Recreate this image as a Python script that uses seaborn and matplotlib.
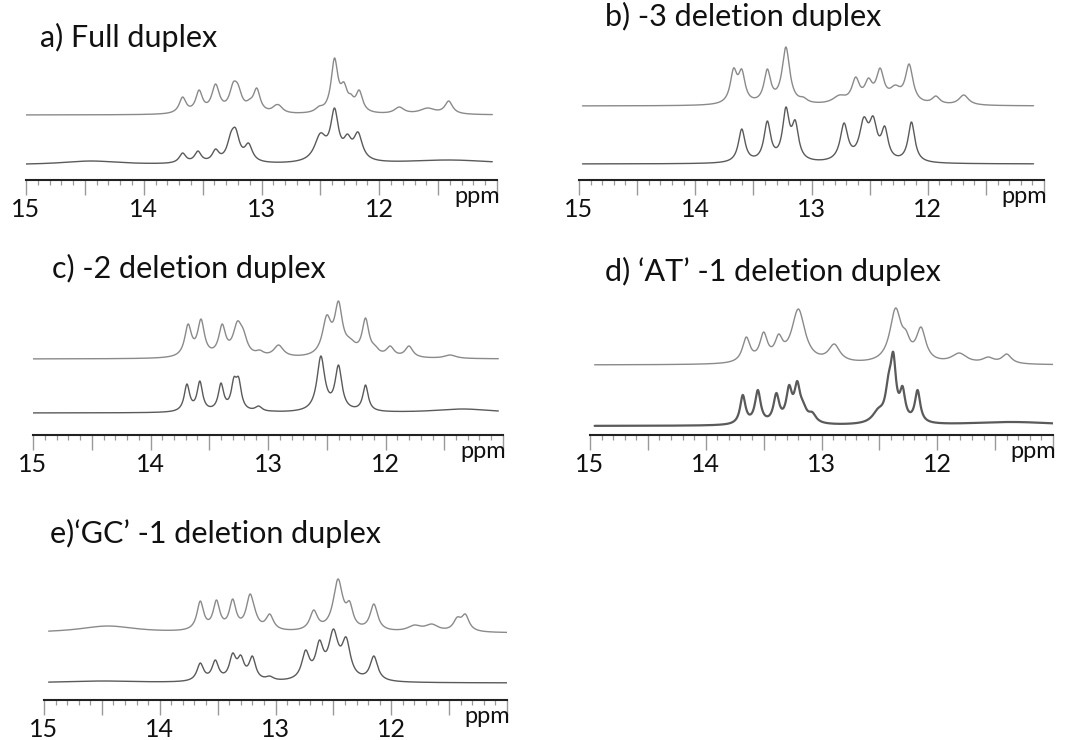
import numpy as np
import pandas as pd
import matplotlib
matplotlib.use("Agg")
import matplotlib.pyplot as plt
from matplotlib.ticker import MultipleLocator, FuncFormatter
import seaborn as sns

# ---------------- data: peak tables ----------------
# each entry: (chemical shift ppm, height above baseline in px, half-width ppm)
A_TOP = [(13.67, 18, 0.035), (13.53, 25, 0.035), (13.39, 31, 0.04), (13.24, 33, 0.04),
         (13.20, 31, 0.04), (13.10, 16, 0.04), (13.04, 27, 0.035), (12.88, 10, 0.04),
         (12.85, 10, 0.04), (12.51, 9, 0.04), (12.38, 57, 0.035), (12.30, 33, 0.035),
         (12.24, 21, 0.03), (12.17, 25, 0.035), (11.83, 8, 0.05), (11.59, 7, 0.08),
         (11.41, 14, 0.04)]
A_BOT = [(14.45, 4, 0.3), (13.67, 12, 0.035), (13.54, 14, 0.035), (13.39, 16, 0.035),
         (13.26, 33, 0.04), (13.22, 37, 0.04), (13.11, 22, 0.04), (12.50, 32, 0.06),
         (12.38, 57, 0.04), (12.27, 31, 0.04), (12.18, 33, 0.045), (11.40, 5, 0.5)]
B_TOP = [(13.67, 38, 0.035), (13.60, 37, 0.035), (13.38, 37, 0.035), (13.22, 59, 0.04),
         (13.07, 9, 0.04), (12.76, 11, 0.07), (12.62, 29, 0.04), (12.51, 28, 0.04),
         (12.41, 38, 0.04), (12.28, 21, 0.06), (12.16, 42, 0.04), (11.93, 10, 0.04),
         (11.69, 11, 0.05)]
B_BOT = [(13.60, 35, 0.035), (13.38, 43, 0.035), (13.22, 57, 0.035), (13.14, 44, 0.035),
         (12.72, 41, 0.04), (12.55, 47, 0.045), (12.47, 48, 0.04), (12.37, 38, 0.035),
         (12.14, 42, 0.035)]
C_TOP = [(13.68, 35, 0.035), (13.57, 40, 0.035), (13.39, 35, 0.035), (13.26, 38, 0.045),
         (13.21, 30, 0.04), (13.07, 9, 0.04), (12.91, 14, 0.05), (12.50, 44, 0.045),
         (12.40, 58, 0.04), (12.30, 21, 0.06), (12.17, 41, 0.035), (12.09, 14, 0.04),
         (11.96, 13, 0.04), (11.80, 13, 0.04), (11.45, 4, 0.06)]
C_BOT = [(13.69, 29, 0.028), (13.58, 32, 0.028), (13.40, 30, 0.028), (13.29, 36, 0.028),
         (13.25, 36, 0.028), (13.08, 7, 0.035), (12.95, 2, 0.04), (12.55, 57, 0.04),
         (12.40, 48, 0.035), (12.17, 28, 0.028), (11.34, 4, 0.3)]
D_TOP = [(13.65, 28, 0.04), (13.50, 33, 0.04), (13.37, 31, 0.04), (13.20, 56, 0.07),
         (12.89, 21, 0.06), (12.36, 57, 0.06), (12.27, 35, 0.04), (12.14, 38, 0.05),
         (11.81, 12, 0.08), (11.56, 8, 0.06), (11.40, 11, 0.05)]
D_BOT = [(13.68, 31, 0.028), (13.55, 36, 0.03), (13.39, 33, 0.03), (13.28, 41, 0.03),
         (13.21, 45, 0.03), (13.16, 25, 0.04), (13.08, 14, 0.04), (12.51, 18, 0.06),
         (12.42, 53, 0.033), (12.38, 74, 0.028), (12.30, 40, 0.028), (12.17, 36, 0.028),
         (11.35, 4, 0.5)]
E_TOP = [(14.45, 7, 0.3), (13.65, 32, 0.035), (13.51, 33, 0.035), (13.37, 34, 0.035),
         (13.22, 39, 0.04), (13.18, 25, 0.04), (13.05, 19, 0.04), (12.67, 23, 0.04),
         (12.46, 54, 0.05), (12.36, 32, 0.035), (12.15, 29, 0.04), (11.80, 8, 0.07),
         (11.65, 9, 0.07), (11.43, 16, 0.04), (11.36, 19, 0.04)]
E_BOT = [(14.5, 2, 0.4), (13.65, 20, 0.035), (13.52, 23, 0.035), (13.37, 30, 0.035),
         (13.30, 28, 0.035), (13.20, 27, 0.035), (13.05, 7, 0.04), (12.74, 33, 0.04),
         (12.62, 43, 0.04), (12.50, 54, 0.05), (12.39, 46, 0.045), (12.15, 27, 0.04)]

TITLES = ["a) Full duplex", "b) -3 deletion duplex", "c) -2 deletion duplex",
          "d) \u2018AT\u2019 -1 deletion duplex", "e)\u2018GC\u2019 -1 deletion duplex"]
BASELINES = [(65, 15), (74, 16), (76, 22), (70, 9), (67, 17)]  # px above axis (top, bottom)
TICK_LABELS = [15, 14, 13, 12]

# ---------------- layout (pixels) ----------------
W, H = 1070, 740
# x of 15 ppm, x of 11 ppm, y of axis line, axes height, title x, title baseline y
PANELS = [
    (26, 497, 180, 140, 40, 47),
    (579, 1044, 180, 160, 605, 26),
    (33, 503, 435, 140, 52, 278),
    (590, 1053, 435, 140, 605, 281),
    (44, 507, 700, 140, 50, 543),
]
SPECTRA = [(A_TOP, A_BOT), (B_TOP, B_BOT), (C_TOP, C_BOT), (D_TOP, D_BOT), (E_TOP, E_BOT)]
SPANS = [(15.0, 11.04), (14.97, 11.09), (15.0, 11.04), (14.96, 11.0), (14.96, 11.0)]


def spectrum(peaks, x):
    p = np.array([q[0] for q in peaks])
    h = np.array([q[1] for q in peaks], dtype=float)
    w = np.array([q[2] for q in peaks])
    M = w[None, :] ** 2 / ((p[:, None] - p[None, :]) ** 2 + w[None, :] ** 2)
    amp = np.clip(np.linalg.lstsq(M, h, rcond=None)[0], 0, None)
    L = w[None, :] ** 2 / ((x[:, None] - p[None, :]) ** 2 + w[None, :] ** 2)
    return L @ amp


sns.set_theme(style="white")
plt.rcParams["font.family"] = ["Lato", "DejaVu Sans"]

fig = plt.figure(figsize=(W / 100, H / 100), dpi=100)

for i, (x15, x11, yax, hgt, tx, ty) in enumerate(PANELS):
    ax = fig.add_axes([x15 / W, (H - yax) / H, (x11 - x15) / W, hgt / H])
    lo, hi = SPANS[i][1], SPANS[i][0]
    x = np.linspace(hi, lo, 2000)
    top, bot = SPECTRA[i]
    btop, bbot = BASELINES[i]
    ytop = btop + spectrum(top, x)
    ybot = bbot + spectrum(bot, x)
    df = pd.DataFrame({"ppm": np.concatenate([x, x]),
                       "y": np.concatenate([ytop, ybot]),
                       "trace": ["top"] * len(x) + ["bottom"] * len(x)})
    bot_lw = 1.6 if i == 3 else 1.0
    sns.lineplot(data=df[df.trace == "top"], x="ppm", y="y", ax=ax, color="#8a8a8a",
                 lw=1.0, sort=False, estimator=None)
    sns.lineplot(data=df[df.trace == "bottom"], x="ppm", y="y", ax=ax, color="#5a5a5a",
                 lw=bot_lw, sort=False, estimator=None)
    ax.set_xlim(15, 11)
    ax.set_ylim(0, hgt)
    ax.set_xlabel("")
    ax.set_ylabel("")
    ax.set_yticks([])
    for s in ["top", "left", "right"]:
        ax.spines[s].set_visible(False)
    ax.spines["bottom"].set_color("#222222")
    ax.spines["bottom"].set_linewidth(1.5)
    ax.xaxis.set_major_locator(MultipleLocator(0.5))
    ax.xaxis.set_minor_locator(MultipleLocator(0.1))
    ax.xaxis.set_major_formatter(FuncFormatter(
        lambda v, pos: str(int(round(v))) if abs(v - round(v)) < 1e-6 and int(round(v)) in TICK_LABELS else ""))
    ax.tick_params(axis="x", which="major", direction="out", length=11, width=1.0,
                   color="#9a9a9a", pad=2, labelsize=18, labelcolor="#111111", bottom=True)
    ax.tick_params(axis="x", which="minor", direction="out", length=3.8, width=0.9,
                   color="#9a9a9a", bottom=True)
    ax.patch.set_alpha(0)
    fig.text(tx / W, 1 - ty / H, TITLES[i], fontsize=22, color="#111111",
             ha="left", va="baseline")
    fig.text((x11 + 3) / W, 1 - (yax + 23) / H, "ppm", fontsize=17, color="#111111",
             ha="right", va="baseline")

fig.savefig("out.png", dpi=100)
